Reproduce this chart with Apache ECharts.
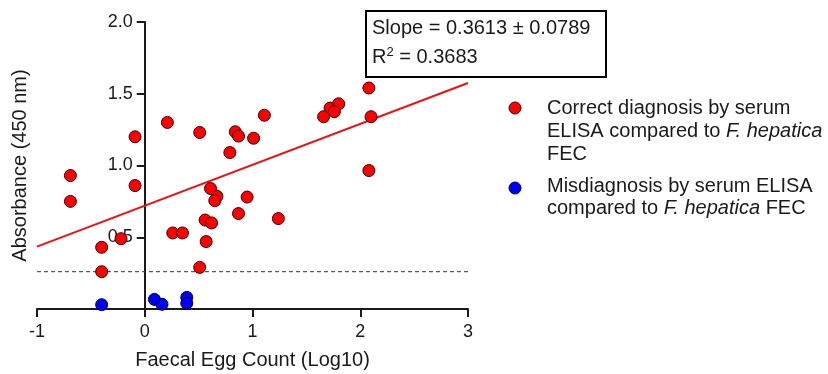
<!DOCTYPE html>
<html>
<head>
<meta charset="utf-8">
<script src="https://cdn.jsdelivr.net/npm/echarts@6/dist/echarts.min.js"></script>
<style>
  html, body { margin: 0; padding: 0; background: #fff; }
  #chart { width: 828px; height: 374px; }
</style>
</head>
<body>
<div id="chart"></div>
<script>
// 읽어낸 값들 (FEC log10, absorbance)
var correctFEC = [-0.09, -0.69, -0.09, -0.69, -0.22, -0.40, -0.40,
  0.21, 0.51, 0.84, 0.87, 1.01, 1.11, 0.79, 0.61, 0.67, 0.65, 0.95, 0.87,
  1.24, 0.56, 0.62, 0.26, 0.35, 0.57, 0.51,
  2.08, 1.72, 1.80, 1.76, 1.66, 2.10, 2.08];
var correctAbs = [1.20, 0.93, 0.86, 0.75, 0.49, 0.43, 0.26,
  1.30, 1.23, 1.235, 1.205, 1.19, 1.35, 1.09, 0.84, 0.785, 0.755, 0.78, 0.665,
  0.63, 0.62, 0.60, 0.53, 0.53, 0.47, 0.29,
  1.54, 1.40, 1.43, 1.375, 1.34, 1.34, 0.965];
var misFEC = [-0.40, 0.09, 0.16, 0.39, 0.39];
var misAbs = [0.03, 0.067, 0.033, 0.081, 0.04];
var fitX = [-1, 3];
var fitY = [0.435, 1.575];
var cutoff = 0.26;
var statLines = ['Slope = 0.3613 \u00b1 0.0789', 'R{sup|2} = 0.3683'];

function pairs(xs, ys) {
  return xs.map(function (x, i) { return [x, ys[i]]; });
}

var chart = echarts.init(document.getElementById('chart'), null, { renderer: 'canvas' });
var FONT = '"Liberation Sans", Arial, sans-serif';
var ink = '#1a1a1a';

// y축을 x=0 위치로 옮기기 위한 offset (grid 폭 431px, x범위 -1~3)
var gridLeft = 37, gridRight = 360;
var plotW = 828 - gridLeft - gridRight;
var yAxisShift = -plotW * (0 - (-1)) / 4;

var option = {
  animation: false,
  textStyle: { fontFamily: FONT },
  grid: { left: gridLeft, right: gridRight, top: 22, bottom: 65, containLabel: false, outerBoundsMode: 'none' },
  xAxis: {
    type: 'value', min: -1, max: 3, interval: 1,
    name: 'Faecal Egg Count (Log10)',
    nameLocation: 'middle', nameGap: 41,
    nameTextStyle: { fontSize: 20, color: ink, fontFamily: FONT },
    axisLine: { onZero: true, lineStyle: { color: ink, width: 2 } },
    axisTick: { length: 8, lineStyle: { color: ink, width: 2 } },
    axisLabel: { fontSize: 18, color: ink, margin: 14, fontFamily: FONT },
    splitLine: { show: false }
  },
  yAxis: {
    type: 'value', min: 0, max: 2, interval: 0.5,
    position: 'left', offset: yAxisShift,
    name: 'Absorbance (450 nm)',
    nameLocation: 'middle', nameGap: 114,
    nameTextStyle: { fontSize: 20, color: ink, fontFamily: FONT },
    axisLine: { show: true, onZero: false, lineStyle: { color: ink, width: 2 } },
    axisTick: { show: true, length: 8, lineStyle: { color: ink, width: 2 } },
    axisLabel: {
      fontSize: 18, color: ink, margin: 12, fontFamily: FONT,
      formatter: function (v) { return v === 0 ? '' : v.toFixed(1); }
    },
    splitLine: { show: false }
  },
  series: [
    {
      // 컷오프 점선
      type: 'line', data: pairs(fitX, [cutoff, cutoff]),
      symbol: 'none', silent: true, z: 1,
      lineStyle: { color: '#333', width: 1, type: [4, 3] }
    },
    {
      // 회귀선
      type: 'line', data: pairs(fitX, fitY),
      symbol: 'none', silent: true, z: 1,
      lineStyle: { color: '#ee1111', width: 2 }
    },
    {
      type: 'scatter', data: pairs(correctFEC, correctAbs),
      symbolSize: 12, z: 3,
      itemStyle: { color: '#ff0000', borderColor: '#3a0000', borderWidth: 1, opacity: 1 }
    },
    {
      type: 'scatter', data: pairs(misFEC, misAbs),
      symbolSize: 12, z: 3,
      itemStyle: { color: '#0000ff', borderColor: '#000033', borderWidth: 1, opacity: 1 }
    }
  ],
  graphic: [
    // 기울기 / R2 박스
    {
      type: 'rect', left: 365, top: 10, z: 10,
      shape: { width: 240, height: 66 },
      style: { fill: '#fff', stroke: '#000', lineWidth: 2 }
    },
    {
      type: 'text', left: 372, top: 18, z: 11,
      style: {
        text: statLines[0], fontSize: 20, fontFamily: FONT, fill: ink
      }
    },
    {
      type: 'text', left: 372, top: 46, z: 11,
      style: {
        text: statLines[1], fontSize: 20, fontFamily: FONT, fill: ink,
        rich: { sup: { fontSize: 13, verticalAlign: 'top', padding: [0, 0, 10, 0], fontFamily: FONT, fill: ink } }
      }
    },
    // 범례
    {
      type: 'circle', z: 10,
      shape: { cx: 515, cy: 108, r: 6 },
      style: { fill: '#ff0000', stroke: '#3a0000', lineWidth: 1 }
    },
    {
      type: 'circle', z: 10,
      shape: { cx: 515, cy: 188, r: 6 },
      style: { fill: '#0000ff', stroke: '#000033', lineWidth: 1 }
    },
    {
      type: 'text', left: 547, top: 98, z: 10,
      style: {
        text: '{n|Correct diagnosis by serum}\n{n|ELISA compared to }{i|F. hepatica}\n{n|FEC}',
        rich: {
          n: { fontSize: 20, fontFamily: FONT, fill: ink, lineHeight: 23 },
          i: { fontSize: 20, fontFamily: FONT, fill: ink, fontStyle: 'italic', lineHeight: 23 }
        }
      }
    },
    {
      type: 'text', left: 547, top: 176, z: 10,
      style: {
        text: '{n|Misdiagnosis by serum ELISA}\n{n|compared to }{i|F. hepatica}{n| FEC}',
        rich: {
          n: { fontSize: 20, fontFamily: FONT, fill: ink, lineHeight: 22 },
          i: { fontSize: 20, fontFamily: FONT, fill: ink, fontStyle: 'italic', lineHeight: 22 }
        }
      }
    }
  ]
};

chart.setOption(option);
</script>
</body>
</html>
